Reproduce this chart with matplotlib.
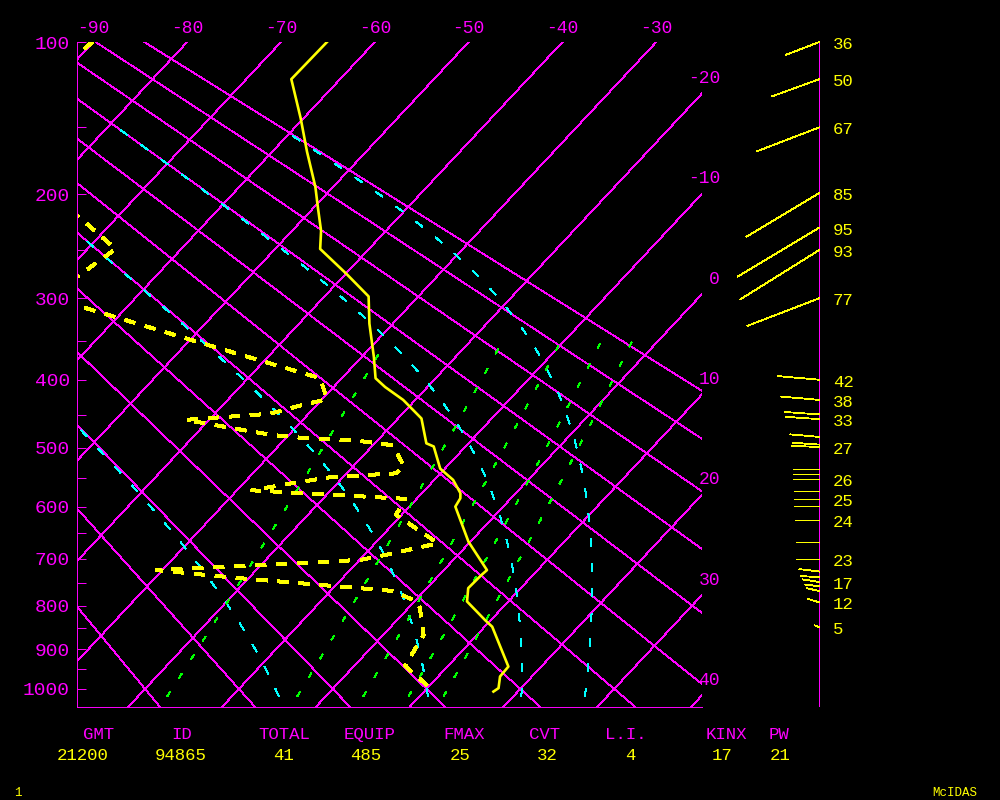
import numpy as np
import matplotlib
matplotlib.use('Agg')
import matplotlib.pyplot as plt

plt.rcParams['lines.scale_dashes'] = False
plt.rcParams['lines.antialiased'] = False
plt.rcParams['font.family'] = ['Liberation Mono', 'DejaVu Sans Mono']

# ---- sounding (pressure hPa, temperature C) ----
temp_p = [100, 120, 144, 167, 194, 211, 232, 249, 274, 298, 329, 370, 398, 410,
          428, 455, 493, 498, 534, 553, 576, 585, 600, 666, 723, 733, 761, 790,
          832, 847, 943, 968, 998, 1007]
temp_t = [-65.1, -65.2, -60.3, -56.3, -51.9, -49.6, -46.9, -45.2, -39.9, -35.3,
          -32.5, -28.7, -26.4, -24.5, -21.3, -17.5, -14.5, -13.4, -10.5, -8.0,
          -5.9, -5.4, -5.1, -0.2, 4.6, 4.5, 4.4, 5.6, 9.4, 10.8, 16.5, 16.6,
          17.6, 17.4]

dew_p = [100, 130, 198, 249, 294, 308, 357, 398, 427, 436, 448, 457, 470, 480,
         486, 488, 492, 496, 531, 542, 548, 557, 564, 571, 586, 615, 669, 690,
         702, 713, 723, 740, 767, 789, 804, 866, 941, 1005]
dew_t = [-90.1, -91.6, -79.7, -67.0, -69.1, -65.5, -46.8, -32.3, -29.5, -31.7,
         -34.1, -42.5, -36.5, -31.8, -27.0, -22.7, -20.3, -17.9, -14.5, -14.8,
         -21.2, -24.3, -26.4, -28.4, -11.2, -10.6, -3.3, -7.3, -9.9, -20.1,
         -30.6, -20.9, -3.4, 0.1, 1.2, 4.3, 5.4, 10.9]

# ---- winds (knots, degrees) ----
wind_p = [100, 120, 150, 199, 229, 250, 300, 400, 428, 449, 456, 483, 495, 499,
          535, 543, 552, 573, 587, 599, 624, 666, 701, 726, 738, 748, 757, 767,
          792, 848]
wind_spd = [36, 50, 67, 85, 95, 93, 77, 42, 38, 34, 33, 29, 26, 27, 26, 26, 26,
            25, 25, 25, 24, 23, 23, 20, 18, 17, 14, 13, 12, 5]
wind_dir = [249, 250, 249, 239, 239, 238, 249, 275, 275, 274, 274, 275, 274, 273,
            270, 270, 270, 270, 270, 270, 270, 270, 270, 277, 274, 279, 277, 282,
            287, 291]
wind_lab = [1, 1, 1, 1, 1, 1, 1, 1, 1, 0, 1, 0, 0, 1, 0, 0, 1, 0, 1, 0, 1, 0, 1,
            0, 0, 1, 0, 0, 1, 1]

# ---- background lines ----
isotherms = list(range(-90, 41, 10))
dry_adiabats = list(range(-20, 91, 10))    # theta, C
moist_adiabats = [0, 30, 60, 90]           # theta-e, C
mix_ratios = [1, 3, 5, 7, 9]               # g/kg

# ---- stability indices ----
idx_names = ['GMT', 'ID', 'TOTAL', 'EQUIP', 'FMAX', 'CVT', 'L.I.', 'KINX', 'PW']
idx_vals = ['21200', '94865', '41', '485', '25', '32', '4', '17', '21']

MAG = '#ff00ff'
YEL = '#ffff00'
CYA = '#00ffff'
GRN = '#00ff00'
LW = 0.55

KAP = 0.286
KAP_AD = 0.2846
SKEW = 18.54          # degC of skew per unit of p**kappa
P_TOP, P_BOT = 100, 1048
XMIN, XMAX = -25.45, 41.2


def u(p):
    return np.asarray(p, dtype=float) ** KAP


U_TOP, U_BOT = u(P_TOP), u(P_BOT)


def sx(t, p):
    return np.asarray(t, dtype=float) + SKEW * (U_BOT - u(p))


def sat_adiabat(the_c, ps):
    # temperature on a line of constant theta-e (simple form), by bisection
    the = the_c + 273.15
    lo = np.full_like(ps, 150.0)
    hi = np.full_like(ps, 320.0)
    for _ in range(50):
        mid = (lo + hi) / 2
        es = 6.112 * np.exp(17.67 * (mid - 273.15) / (mid - 29.65))
        rs = 0.622 * es / (ps - es)
        f = mid * (1000.0 / ps) ** KAP_AD * np.exp(2.5e6 * rs / (1004.0 * mid)) - the
        hi = np.where(f > 0, mid, hi)
        lo = np.where(f > 0, lo, mid)
    return (lo + hi) / 2 - 273.15


W, H = 1000, 800
L, R, T, B = 77, 702.3, 42, 707
fig = plt.figure(figsize=(10, 8), dpi=100, facecolor='black')
ax = fig.add_axes([L / W, 1 - B / H, (R - L) / W, (B - T) / H])
ax.set_facecolor('black')
ax.set_xlim(XMIN, XMAX)
ax.set_ylim(U_BOT, U_TOP)
PXU = (B - T) / (U_BOT - U_TOP)

pp = np.linspace(P_TOP, P_BOT, 60)
for t in isotherms:
    ax.plot(sx(t, pp), u(pp), color=MAG, lw=LW)
for th in dry_adiabats:
    tk = (th + 273.15) * (pp / 1000.0) ** KAP_AD - 273.15
    ax.plot(sx(tk, pp), u(pp), color=MAG, lw=LW)

ps = np.linspace(1020, 150, 120)
for the in moist_adiabats:
    ts = sat_adiabat(the, ps)
    ax.plot(sx(ts, ps), u(ps), color=CYA, lw=LW, ls=(0, (5.8, 12.2)))

pm = np.linspace(1020, 350, 40)
for w in mix_ratios:
    e = w * pm / (622.0 + w)
    le = np.log(e / 6.112)
    td = 243.5 * le / (17.67 - le)
    ax.plot(sx(td, pm), u(pm), color=GRN, lw=LW, ls=(0, (4.3, 12.2)))

ax.plot(sx(temp_t, temp_p), u(temp_p), color=YEL, lw=1.9, antialiased=True)
ax.plot(sx(dew_t, dew_p), u(dew_p), color=YEL, lw=1.8, ls=(0, (7.2, 7.2)),
        dash_capstyle='butt')

plevs = np.arange(100, 1001, 50)
ax.set_yticks(u(plevs))
ax.set_yticklabels([str(p) if p % 100 == 0 else '' for p in plevs])
ax.tick_params(axis='y', direction='in', length=6.3, width=0.7, color=MAG,
               labelcolor=MAG, labelsize=14, pad=5)
ax.set_xticks([])
for side in ['top', 'right']:
    ax.spines[side].set_visible(False)
for side in ['left', 'bottom']:
    ax.spines[side].set_color(MAG)
    ax.spines[side].set_linewidth(0.7)

for t in isotherms:
    if t <= -30:
        ax.annotate(str(t), xy=(sx(t, P_TOP), U_TOP), xytext=(0, 10),
                    textcoords='offset points', ha='center', va='center',
                    color=MAG, fontsize=13, annotation_clip=False)
    else:
        ue = U_BOT - (XMAX - t) / SKEW
        ax.annotate(str(t), xy=(XMAX, ue), xytext=(12.7, 10.5),
                    textcoords='offset points', ha='right', va='center',
                    color=MAG, fontsize=13, annotation_clip=False)

# wind panel
ax2 = fig.add_axes([700 / W, 1 - B / H, 160 / W, (B - T) / H])
ax2.set_xlim(-119.3, 40.7)
ax2.set_ylim(U_BOT, U_TOP)
ax2.axis('off')
ax2.plot([0, 0], [U_BOT, U_TOP], color=MAG, lw=0.6)
for p, s, d, lab in zip(wind_p, wind_spd, wind_dir, wind_lab):
    u0 = u(p)
    dx = s * np.sin(np.radians(d))
    dy = s * np.cos(np.radians(d))
    ax2.plot([0, dx], [u0, u0 - dy / PXU], color=YEL, lw=0.6, clip_on=False)
    if lab:
        ax2.text(13.5, u0 + 2.4 / PXU, str(s), color=YEL, fontsize=12.5,
                 ha='left', va='center')

lab_x = [99, 182, 284, 370, 464, 545, 626, 726, 779]
val_x = [83, 181, 284, 366, 460, 547, 630, 722, 780]
for name, val, xl, xv in zip(idx_names, idx_vals, lab_x, val_x):
    fig.text(xl / W, 1 - 734.5 / H, name, color=MAG, fontsize=12.5,
             ha='center', va='center')
    fig.text(xv / W, 1 - 755 / H, val, color=YEL, fontsize=12.5,
             ha='center', va='center')

fig.text(18 / W, 1 - 793 / H, '1', color=YEL, fontsize=9, ha='center', va='center')
fig.text(955 / W, 1 - 793 / H, 'McIDAS', color=YEL, fontsize=9, ha='center', va='center')

fig.savefig('out.png', dpi=100, facecolor='black')
